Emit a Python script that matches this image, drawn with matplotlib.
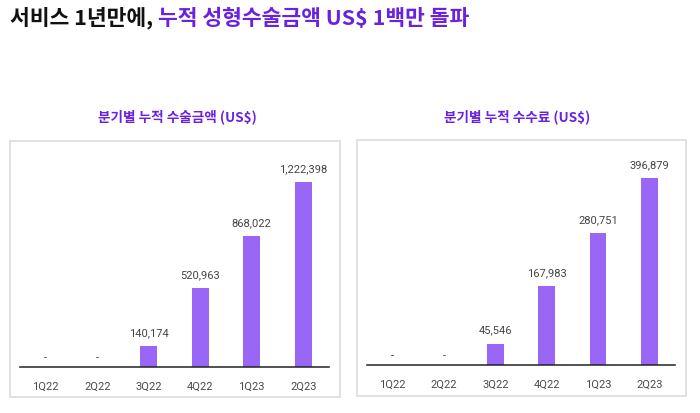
import matplotlib
matplotlib.use("Agg")
from matplotlib import pyplot as plt
from matplotlib.patches import Rectangle

quarters = ["1Q22", "2Q22", "3Q22", "4Q22", "1Q23", "2Q23"]
surgery_amount = [0, 0, 140174, 520963, 868022, 1222398]
fees = [0, 0, 45546, 167983, 280751, 396879]
panel_titles = ["분기별 누적 수술금액 (US$)", "분기별 누적 수수료 (US$)"]

BAR = "#9966f5"
PURPLE = "#6a22e0"
W, H = 700, 414

plt.rcParams["font.family"] = ["Noto Sans CJK KR", "DejaVu Sans"]

fig = plt.figure(figsize=(W / 100, H / 100), dpi=100)
fig.patch.set_facecolor("white")


def px_box(x0, y0, x1, y1):
    # pixel box (top-left origin) -> figure fraction rect
    return [x0 / W, 1 - y1 / H, (x1 - x0) / W, (y1 - y0) / H]


def panel(values, title, box, ax_px, top_px, title_x):
    bx0, by0, bx1, by1 = box
    fig.patches.append(Rectangle((bx0 / W, 1 - by1 / H), (bx1 - bx0) / W, (by1 - by0) / H,
                                 transform=fig.transFigure, fill=False,
                                 edgecolor="#dcdcdc", linewidth=1.2))
    x0, x1, base = ax_px
    ax = fig.add_axes(px_box(x0, 150, x1, base))
    ax.set_facecolor("none")
    ax.bar(range(len(quarters)), values, width=0.33, color=BAR, zorder=2)
    ax.set_xlim(-0.5, len(quarters) - 0.5)
    ymax = max(values) * (base - 150) / (base - top_px)
    ax.set_ylim(0, ymax)
    for s in ["top", "right", "left"]:
        ax.spines[s].set_visible(False)
    ax.spines["bottom"].set_color("#222222")
    ax.spines["bottom"].set_linewidth(1.1)
    ax.set_yticks([])
    ax.set_xticks(range(len(quarters)))
    ax.set_xticklabels(quarters, family="Roboto", fontsize=8, color="#4a4a4a")
    ax.tick_params(axis="x", length=0, pad=10)
    for i, v in enumerate(values):
        label = f"{v:,}" if v else "-"
        off = 10 if v else 7
        ax.annotate(label, (i, v), xytext=(0, off), textcoords="offset points",
                    ha="center", va="center", family="Roboto", fontsize=8,
                    color="#444444")
    fig.text(title_x / W, 1 - 117 / H, title, ha="center", va="center",
             fontsize=9.8, fontweight="bold", color=PURPLE)


panel(surgery_amount, panel_titles[0], (10, 142, 340, 398), (20, 329, 368), 183, 177)
panel(fees, panel_titles[1], (357, 141, 686, 397), (367, 675, 366), 179, 517)

t1 = fig.text(10 / W, 1 - 18 / H, "서비스 1년만에, ", ha="left", va="center",
              fontsize=15.5, fontweight="heavy", color="#111111")
fig.canvas.draw()
bb = t1.get_window_extent()
fig.text(bb.x1 / W, 1 - 18 / H, "누적 성형수술금액 US$ 1백만 돌파", ha="left", va="center",
         fontsize=15.5, fontweight="heavy", color=PURPLE)

fig.savefig("out.png", dpi=100)
